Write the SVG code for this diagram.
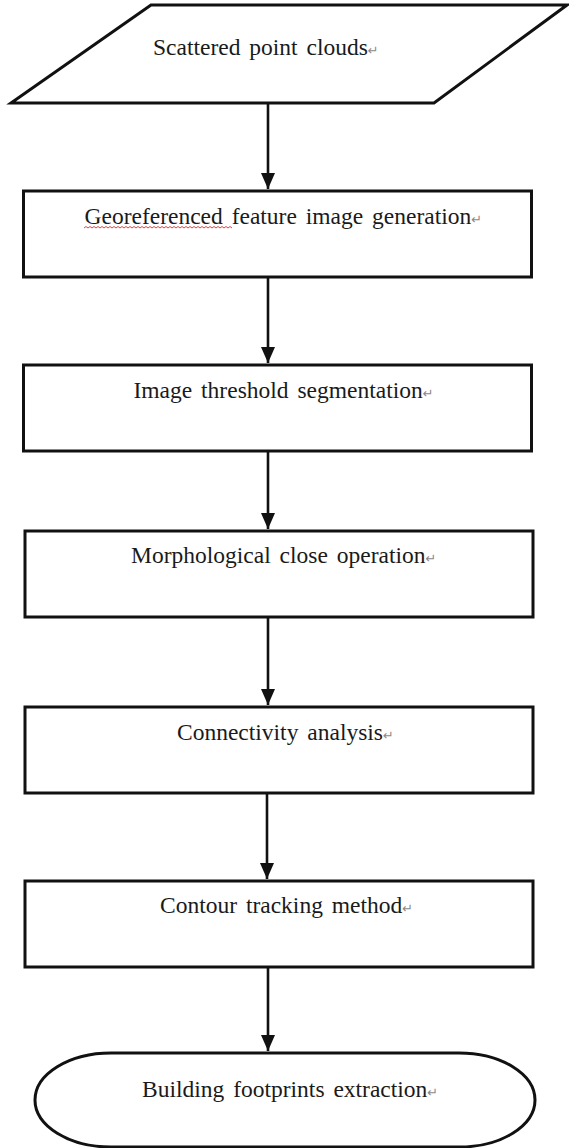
<svg xmlns="http://www.w3.org/2000/svg" width="569" height="1148" viewBox="0 0 569 1148">
<style>
.shape{fill:#fff;stroke:#111;stroke-width:3}
.lbl{font-family:"Liberation Serif","Times New Roman",serif;font-size:23.5px;fill:#1a1a1a;word-spacing:3px}
.ret{font-family:"DejaVu Sans",sans-serif;font-size:13px;fill:#8a8a8a}
.conn{stroke:#111;stroke-width:2.6;fill:none;marker-end:url(#ah)}
</style>
<defs>
<marker id="ah" markerUnits="userSpaceOnUse" markerWidth="16" markerHeight="14" viewBox="0 0 16 14" refX="16" refY="7" orient="auto">
<path d="M0,0 L16,7 L0,14 Z" fill="#111"/>
</marker>
</defs>
<rect width="569" height="1148" fill="#fff"/>
<g id="connectors">
<line class="conn" x1="268" y1="103" x2="268" y2="189"/>
<line class="conn" x1="268" y1="277" x2="268" y2="363"/>
<line class="conn" x1="268" y1="451" x2="268" y2="529"/>
<line class="conn" x1="268" y1="617" x2="268" y2="705"/>
<line class="conn" x1="267" y1="793" x2="267" y2="879"/>
<line class="conn" x1="268" y1="967" x2="268" y2="1051"/>
</g>
<g id="n0">
<polygon class="shape" points="151,5 567,5 434,103 11,103"/>
<text class="lbl" x="153" y="55">Scattered point clouds<tspan class="ret">↵</tspan></text>
</g>
<g id="n1">
<rect class="shape" x="23.5" y="191" width="508" height="86"/>
<text class="lbl" x="84.5" y="224">Georeferenced feature image generation<tspan class="ret">↵</tspan></text>
<path d="M84,228 l2,-1.5 l2,1.5 l2,-1.5 l2,1.5 l2,-1.5 l2,1.5 l2,-1.5 l2,1.5 l2,-1.5 l2,1.5 l2,-1.5 l2,1.5 l2,-1.5 l2,1.5 l2,-1.5 l2,1.5 l2,-1.5 l2,1.5 l2,-1.5 l2,1.5 l2,-1.5 l2,1.5 l2,-1.5 l2,1.5 l2,-1.5 l2,1.5 l2,-1.5 l2,1.5 l2,-1.5 l2,1.5 l2,-1.5 l2,1.5 l2,-1.5 l2,1.5 l2,-1.5 l2,1.5 l2,-1.5 l2,1.5 l2,-1.5 l2,1.5 l2,-1.5 l2,1.5 l2,-1.5 l2,1.5 l2,-1.5 l2,1.5 l2,-1.5 l2,1.5 l2,-1.5 l2,1.5 l2,-1.5 l2,1.5 l2,-1.5 l2,1.5 l2,-1.5 l2,1.5 l2,-1.5 l2,1.5 l2,-1.5 l2,1.5 l2,-1.5 l2,1.5 l2,-1.5 l2,1.5 l2,-1.5 l2,1.5 l2,-1.5 l2,1.5 l2,-1.5 l2,1.5 l2,-1.5 l2,1.5 l2,-1.5 l2,1.5" fill="none" stroke="#e03030" stroke-width="0.9"/>
</g>
<g id="n2">
<rect class="shape" x="23.5" y="365" width="508" height="86"/>
<text class="lbl" x="133.5" y="398">Image threshold segmentation<tspan class="ret">↵</tspan></text>
</g>
<g id="n3">
<rect class="shape" x="25" y="531" width="508" height="86"/>
<text class="lbl" x="131" y="563">Morphological close operation<tspan class="ret">↵</tspan></text>
</g>
<g id="n4">
<rect class="shape" x="25" y="707" width="508" height="86"/>
<text class="lbl" x="177" y="740">Connectivity analysis<tspan class="ret">↵</tspan></text>
</g>
<g id="n5">
<rect class="shape" x="25" y="881" width="508" height="86"/>
<text class="lbl" x="160" y="913">Contour tracking method<tspan class="ret">↵</tspan></text>
</g>
<g id="n6">
<path class="shape" d="M111,1053 H459 A76,47 0 0 1 459,1147 H111 A76,47 0 0 1 111,1053 Z"/>
<text class="lbl" x="142" y="1097">Building footprints extraction<tspan class="ret">↵</tspan></text>
</g>
</svg>
